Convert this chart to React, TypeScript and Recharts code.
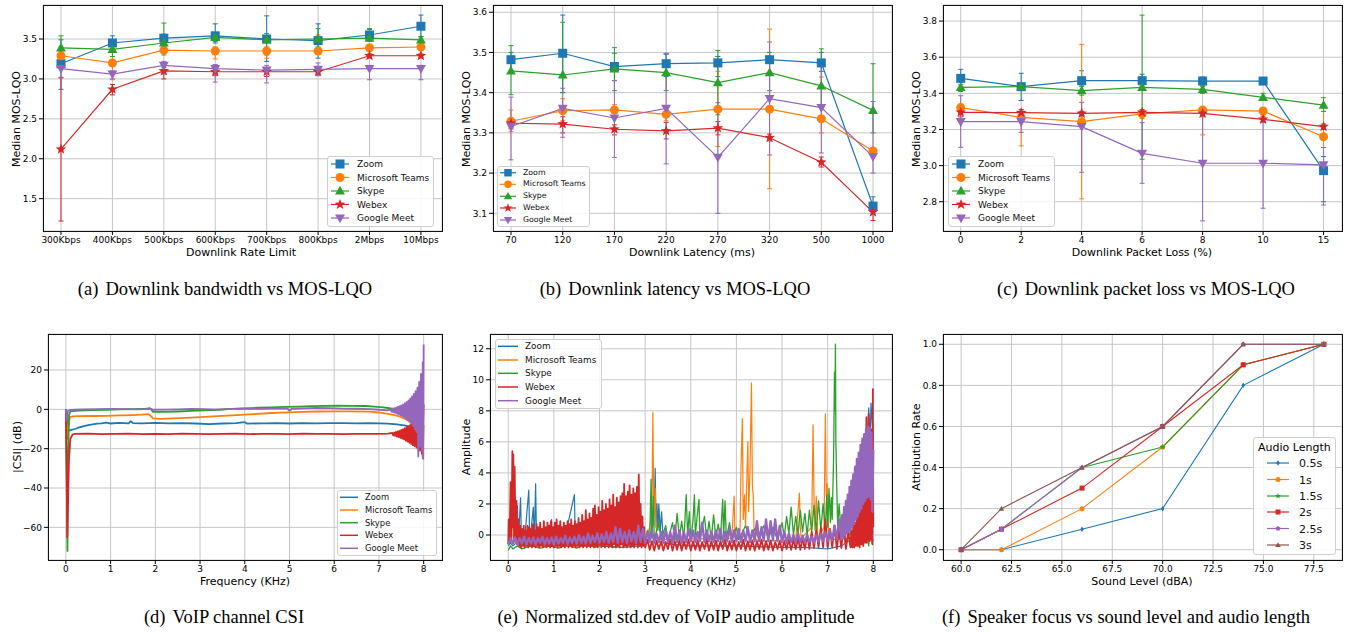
import React from 'react';
import { LineChart, Line, XAxis, YAxis, CartesianGrid, ErrorBar } from 'recharts';

const FONT = "'DejaVu Sans', Verdana, sans-serif";
const SERIF = "'Liberation Serif', 'DejaVu Serif', serif";

const APP_NAMES = ['Zoom', 'Microsoft Teams', 'Skype', 'Webex', 'Google Meet'];
const APP_KEYS = ['zoom', 'teams', 'skype', 'webex', 'meet'];
const APP_COLORS = ['#1f77b4', '#ff7f0e', '#2ca02c', '#d62728', '#9467bd'];
const APP_SHAPES = ['square', 'circle', 'tri', 'star', 'triDown'];

// ---------- (a) Downlink bandwidth ----------
const BW_LABELS = ['300Kbps', '400Kbps', '500Kbps', '600Kbps', '700Kbps', '800Kbps', '2Mbps', '10Mbps'];
const BW_ZOOM = [3.19, 3.45, 3.51, 3.54, 3.5, 3.48, 3.55, 3.66];
const BW_ZOOM_LO = [2.87, 3.38, 3.45, 3.45, 3.22, 3.26, 3.5, 3.53];
const BW_ZOOM_HI = [3.49, 3.54, 3.56, 3.69, 3.79, 3.69, 3.62, 3.8];
const BW_TEAMS = [3.29, 3.2, 3.36, 3.35, 3.35, 3.35, 3.39, 3.4];
const BW_TEAMS_LO = [3.22, 2.99, 3.32, 3.25, 3.26, 3.31, 3.36, 3.37];
const BW_TEAMS_HI = [3.35, 3.28, 3.4, 3.4, 3.4, 3.55, 3.42, 3.43];
const BW_SKYPE = [3.39, 3.37, 3.45, 3.52, 3.49, 3.5, 3.51, 3.49];
const BW_SKYPE_LO = [3.3, 3.28, 3.3, 3.47, 3.3, 3.4, 3.47, 3.45];
const BW_SKYPE_HI = [3.54, 3.42, 3.7, 3.56, 3.57, 3.63, 3.63, 3.53];
const BW_WEBEX = [2.12, 2.87, 3.1, 3.09, 3.09, 3.09, 3.29, 3.29];
const BW_WEBEX_LO = [1.22, 2.8, 3.0, 3.04, 3.03, 3.05, 3.27, 3.27];
const BW_WEBEX_HI = [3.02, 2.93, 3.14, 3.13, 3.13, 3.13, 3.31, 3.31];
const BW_MEET = [3.13, 3.06, 3.17, 3.13, 3.11, 3.12, 3.13, 3.13];
const BW_MEET_LO = [3.01, 3.0, 3.06, 2.96, 2.95, 3.04, 2.99, 2.99];
const BW_MEET_HI = [3.17, 3.1, 3.22, 3.18, 3.17, 3.2, 3.17, 3.17];

// ---------- (b) Downlink latency ----------
const LAT_LABELS = ['70', '120', '170', '220', '270', '320', '500', '1000'];
const LAT_ZOOM = [3.482, 3.498, 3.465, 3.472, 3.474, 3.482, 3.474, 3.118];
const LAT_ZOOM_LO = [3.45, 3.4, 3.43, 3.44, 3.44, 3.45, 3.453, 3.108];
const LAT_ZOOM_HI = [3.5, 3.593, 3.498, 3.496, 3.49, 3.5, 3.5, 3.141];
const LAT_TEAMS = [3.329, 3.355, 3.357, 3.346, 3.359, 3.359, 3.335, 3.255];
const LAT_TEAMS_LO = [3.303, 3.33, 3.34, 3.33, 3.266, 3.161, 3.3, 3.245];
const LAT_TEAMS_HI = [3.357, 3.385, 3.37, 3.36, 3.453, 3.558, 3.439, 3.262];
const LAT_SKYPE = [3.454, 3.444, 3.459, 3.45, 3.425, 3.45, 3.417, 3.356];
const LAT_SKYPE_LO = [3.395, 3.4, 3.405, 3.405, 3.345, 3.405, 3.37, 3.3];
const LAT_SKYPE_HI = [3.517, 3.575, 3.512, 3.496, 3.505, 3.5, 3.509, 3.472];
const LAT_WEBEX = [3.324, 3.322, 3.309, 3.305, 3.312, 3.288, 3.227, 3.103];
const LAT_WEBEX_LO = [3.31, 3.3, 3.295, 3.285, 3.295, 3.28, 3.215, 3.082];
const LAT_WEBEX_HI = [3.335, 3.34, 3.32, 3.326, 3.328, 3.297, 3.24, 3.115];
const LAT_MEET = [3.316, 3.361, 3.337, 3.361, 3.239, 3.385, 3.363, 3.241];
const LAT_MEET_LO = [3.233, 3.289, 3.239, 3.223, 3.1, 3.245, 3.25, 3.2];
const LAT_MEET_HI = [3.389, 3.411, 3.43, 3.498, 3.375, 3.526, 3.478, 3.378];

// ---------- (c) Downlink packet loss ----------
const LOSS_LABELS = ['0', '2', '4', '6', '8', '10', '15'];
const LOSS_ZOOM = [3.483, 3.437, 3.47, 3.47, 3.468, 3.468, 2.972];
const LOSS_ZOOM_LO = [3.43, 3.36, 3.44, 3.44, 3.44, 3.45, 2.8];
const LOSS_ZOOM_HI = [3.533, 3.511, 3.525, 3.506, 3.49, 3.48, 3.05];
const LOSS_TEAMS = [3.321, 3.267, 3.243, 3.286, 3.308, 3.302, 3.16];
const LOSS_TEAMS_LO = [3.29, 3.109, 2.816, 3.26, 3.17, 3.28, 3.1];
const LOSS_TEAMS_HI = [3.34, 3.3, 3.671, 3.3, 3.32, 3.32, 3.3];
const LOSS_SKYPE = [3.433, 3.437, 3.415, 3.433, 3.422, 3.378, 3.335];
const LOSS_SKYPE_LO = [3.41, 3.42, 3.39, 3.035, 3.4, 3.363, 3.3];
const LOSS_SKYPE_HI = [3.45, 3.45, 3.44, 3.833, 3.44, 3.4, 3.376];
const LOSS_WEBEX = [3.295, 3.293, 3.289, 3.295, 3.289, 3.256, 3.216];
const LOSS_WEBEX_LO = [3.27, 3.28, 3.275, 3.28, 3.27, 3.24, 3.2];
const LOSS_WEBEX_HI = [3.31, 3.31, 3.3, 3.31, 3.3, 3.27, 3.23];
const LOSS_MEET = [3.243, 3.243, 3.216, 3.068, 3.013, 3.013, 3.004];
const LOSS_MEET_LO = [3.101, 3.184, 2.963, 2.902, 2.694, 2.764, 2.782];
const LOSS_MEET_HI = [3.387, 3.3, 3.35, 3.238, 3.321, 3.317, 3.1];

// ---------- (d) VoIP channel CSI (KHz, dB) ----------
const CSI_ZOOM = [[0.03, -1], [0.05, -11], [0.1, -10.6], [0.2, -10], [0.3, -9.2], [0.4, -8.5], [0.5, -8], [0.6, -7.6], [0.7, -7.3], [0.8, -7.1], [0.9, -6.8], [1.0, -7.2], [1.2, -6.9], [1.4, -7.1], [1.45, -6.0], [1.5, -7.0], [1.7, -7.1], [2.0, -6.9], [2.3, -7.1], [2.6, -7.0], [2.9, -7.2], [3.2, -7.5], [3.5, -7.2], [3.8, -7.0], [4.0, -6.5], [4.05, -7.3], [4.4, -7.1], [4.7, -7.0], [5.0, -7.2], [5.3, -7.0], [5.6, -7.1], [5.9, -7.0], [6.2, -7.0], [6.5, -7.1], [6.8, -7.0], [7.0, -7.1], [7.2, -7.3], [7.4, -7.6], [7.6, -8.3], [7.7, -9], [7.8, -9.3], [7.9, -9], [7.95, -8], [8.0, -7]];
const CSI_TEAMS = [[0.0, 0], [0.03, -15], [0.06, -8], [0.09, -4], [0.15, -3.6], [0.3, -3.5], [0.6, -3.4], [0.9, -3.3], [1.2, -3.1], [1.5, -2.9], [1.7, -2.7], [1.85, -2.4], [1.9, -3.5], [1.95, -4.6], [2.1, -4.8], [2.4, -4.6], [2.7, -4.3], [3.0, -4.0], [3.3, -3.6], [3.6, -3.2], [3.9, -2.8], [4.2, -2.4], [4.5, -2.0], [4.8, -1.7], [5.0, -1.5], [5.3, -1.3], [5.6, -1.1], [6.0, -1.0], [6.4, -1.0], [6.8, -1.2], [7.0, -1.6], [7.2, -2.3], [7.4, -3.2], [7.5, -4], [7.6, -5], [7.7, -6.5], [7.8, -9], [7.85, -11], [7.9, -14], [7.95, -19], [7.98, -25], [8.0, -8]];
const CSI_SKYPE = [[0.0, 0], [0.02, -35], [0.035, -72], [0.05, -25], [0.07, -3], [0.1, -1.0], [0.3, -0.6], [0.6, -0.4], [0.9, -0.2], [1.2, 0], [1.5, 0.1], [1.8, 0.3], [1.88, 0.6], [1.95, -1.3], [2.2, -1.3], [2.5, -1.1], [2.8, -0.8], [3.1, -0.5], [3.4, -0.2], [3.7, 0.2], [4.0, 0.5], [4.3, 0.8], [4.6, 1.0], [4.9, 1.2], [5.2, 1.4], [5.5, 1.6], [5.8, 1.8], [6.1, 1.9], [6.4, 1.8], [6.7, 1.7], [6.9, 1.4], [7.1, 1.0], [7.3, 0.3], [7.4, -0.3], [7.5, -1.0], [7.6, -2], [7.7, -3.5], [7.8, -6], [7.9, -9], [8.0, -10]];
const CSI_WEBEX = [[0.0, 0], [0.015, -30], [0.03, -65], [0.05, -45], [0.07, -25], [0.1, -15], [0.15, -12.8], [0.2, -12.5], [0.5, -12.4], [0.8, -12.6], [1.1, -12.5], [1.4, -12.4], [1.7, -12.6], [2.0, -12.5], [2.3, -12.6], [2.6, -12.4], [2.9, -12.5], [3.2, -12.6], [3.5, -12.5], [3.8, -12.4], [4.1, -12.6], [4.4, -12.5], [4.7, -12.5], [5.0, -12.6], [5.3, -12.4], [5.6, -12.5], [5.9, -12.5], [6.2, -12.6], [6.5, -12.5], [6.8, -12.5], [7.0, -12.5], [7.2, -12.4],
  [7.30, -12.0], [7.32, -13.3], [7.34, -11.8], [7.36, -13.5], [7.38, -11.5], [7.40, -13.8], [7.42, -11.2], [7.44, -14.1], [7.46, -10.9], [7.48, -14.5], [7.50, -10.4], [7.52, -14.9], [7.54, -10.1], [7.56, -15.3], [7.58, -9.6], [7.60, -15.9], [7.62, -9.0], [7.64, -16.4], [7.66, -8.5], [7.68, -17.0], [7.70, -7.9], [7.72, -17.6], [7.74, -7.2], [7.76, -18.2], [7.78, -6.6], [7.80, -18.8], [7.82, -11], [7.84, -19.5], [7.86, -12], [7.88, -20.5], [7.90, -13], [7.92, -21], [7.94, -14], [7.96, -22.5], [7.98, -16], [8.0, 2.5]];
const CSI_MEET = [[0.0, 0], [0.02, -6], [0.04, -1], [0.08, -0.4], [0.2, -0.2], [0.4, 0], [0.7, 0.1], [1.0, 0.2], [1.3, 0.1], [1.6, 0], [1.9, 0.2], [1.95, -0.2], [2.2, -0.1], [2.5, 0], [2.8, 0.2], [3.1, 0.1], [3.4, -0.1], [3.7, 0.2], [4.0, 0.3], [4.3, 0.2], [4.6, 0.4], [4.95, 0.5], [5.0, -0.8], [5.05, 0.3], [5.3, 0.5], [5.6, 0.7], [5.9, 0.6], [6.2, 0.4], [6.5, 0.3], [6.8, 0.1], [7.0, -0.2], [7.2, -0.5],
  [7.26, 0.0], [7.28, -1.2], [7.30, 0.4], [7.32, -1.5], [7.34, 0.6], [7.36, -1.8], [7.38, 0.9], [7.40, -2.2], [7.42, 1.2], [7.44, -2.6], [7.46, 1.6], [7.48, -3.0], [7.50, 2.0], [7.52, -3.5], [7.54, 2.5], [7.56, -4.0], [7.58, 3.1], [7.60, -4.6], [7.62, 3.8], [7.64, -5.3], [7.66, 4.6], [7.68, -6.2], [7.70, 5.5], [7.72, -7.2], [7.74, 6.6], [7.76, -8.4], [7.78, 7.9], [7.80, -9.8], [7.82, 9.3], [7.84, -11.5], [7.86, 11], [7.88, -24], [7.90, 14], [7.92, -19], [7.94, 18], [7.96, -21], [7.98, 24], [7.99, -25], [8.0, 33]];

// ---------- (e) Normalized std.dev of amplitude (KHz, amplitude) ----------
const AMP_ZOOM = [[0, -0.7], [0.05, -0.5], [0.1, -0.7], [0.18, -0.5], [0.2, 1.9], [0.22, -0.5], [0.27, 2.4], [0.29, -0.5], [0.35, -0.6], [0.45, 2.9], [0.47, -0.5], [0.55, 1.8], [0.57, -0.5], [0.6, 3.3], [0.62, -0.5], [0.8, -0.7], [0.95, 1.0], [0.97, -0.6], [1.2, -0.7], [1.45, 2.6], [1.47, -0.6], [1.7, -0.7], [2.0, -0.7], [2.5, -0.8], [2.9, -0.7], [3.0, -0.6], [3.1, -0.3], [3.2, 1.5], [3.22, 4.3], [3.24, 0.5], [3.26, 2.0], [3.28, 0.3], [3.3, 2.0], [3.33, 0.2], [3.36, 1.5], [3.4, -0.5], [3.6, -0.6], [4.0, -0.7], [5.0, -0.7], [6.0, -0.8], [6.5, -0.8], [7.0, -0.9], [7.3, -0.7], [7.5, -0.3], [7.6, 0.5], [7.7, 1.5], [7.8, 3], [7.85, 5], [7.9, 8.2], [7.93, 6], [7.95, 8.5], [7.97, 7.5], [8.0, 6]];
const AMP_TEAMS = [[0, -0.5], [0.1, 1.5], [0.12, -0.5], [1.0, -0.5], [3.0, -0.4], [3.1, 0.5], [3.15, 1.8], [3.17, 7.9], [3.19, 0.6], [3.22, 3.0], [3.25, -0.2], [3.4, -0.3], [4.9, -0.2], [4.95, 2.5], [4.97, -0.2], [5.08, 0.3], [5.1, 4.2], [5.13, 7.5], [5.15, 1.0], [5.18, 2.6], [5.2, 0.5], [5.25, 6.0], [5.27, 1.5], [5.3, 4.5], [5.33, 9.8], [5.35, 3.2], [5.37, 2.5], [5.39, -0.2], [5.5, -0.4], [6.3, -0.3], [6.38, 2.7], [6.4, 0.5], [6.42, -0.2], [6.65, 0.5], [6.68, 7.1], [6.7, 2.5], [6.72, 0.3], [6.75, 2.5], [6.78, -0.2], [6.92, 0.5], [6.95, 7.8], [6.97, 2.5], [6.99, 3.3], [7.02, 0.2], [7.1, -0.3], [7.5, -0.2], [8.0, 0.2]];
const AMP_SKYPE = [[0, -1.0], [0.05, -0.7], [0.1, -0.9], [0.2, -0.7], [0.3, -0.9], [0.5, -0.7], [0.7, -0.85], [0.9, -0.7], [1.1, -0.85], [1.3, -0.65], [1.5, -0.85], [1.7, -0.6], [1.9, -0.8], [2.1, -0.6], [2.3, -0.8], [2.5, -0.55], [2.7, -0.75], [2.9, -0.5], [3.0, -0.7], [3.05, 0.3], [3.1, -0.3], [3.13, 3.6], [3.15, -0.2], [3.18, 2.5], [3.2, -0.3], [3.3, 0.8], [3.35, -0.3], [3.45, 0.6], [3.5, -0.4], [3.6, 0.8], [3.65, -0.3], [3.7, 1.4], [3.75, -0.2], [3.8, 0.9], [3.85, -0.3], [3.9, 2.6], [3.93, 0.0], [3.97, 1.5], [4.0, -0.4], [4.05, 1.0], [4.08, 2.6], [4.1, 0.0], [4.15, 1.5], [4.18, 2.3], [4.2, -0.2], [4.3, 1.2], [4.35, -0.3], [4.4, 0.9], [4.45, -0.3], [4.5, 1.3], [4.55, -0.2], [4.6, 0.7], [4.65, -0.3], [4.7, 2.3], [4.72, -0.1], [4.75, 2.2], [4.78, -0.2], [4.85, 0.8], [4.9, -0.3], [5.0, 0.5], [5.05, -0.3], [5.2, 0.6], [5.3, -0.2], [5.4, 0.4], [5.5, -0.3], [5.6, 0.6], [5.7, -0.2], [5.8, 0.5], [5.9, -0.3], [6.0, 0.8], [6.05, -0.1], [6.1, 1.2], [6.15, 0.1], [6.2, 1.8], [6.25, 0.0], [6.3, 1.2], [6.35, 0.1], [6.4, 1.6], [6.45, 0.2], [6.5, 1.4], [6.55, 0.0], [6.6, 1.6], [6.65, 0.2], [6.7, 1.9], [6.75, 0.2], [6.8, 2.2], [6.85, 0.3], [6.9, 2.0], [6.95, 0.4], [6.98, 2.6], [7.0, 0.5], [7.03, 3.0], [7.06, 0.8], [7.08, 2.4], [7.1, 1.0], [7.13, 5], [7.15, 10.5], [7.16, 8], [7.17, 12.3], [7.18, 6], [7.2, 3.0], [7.22, 0.5], [7.25, 2.0], [7.3, 0.0], [7.35, 0.4], [7.4, -0.5], [7.5, 0.2], [7.6, -0.6], [7.7, 0.1], [7.75, -0.6], [7.77, 6.2], [7.79, -0.5], [7.85, 0.5], [7.9, -0.7], [7.95, 1.5], [7.97, -0.5], [8.0, -0.3]];
const AMP_WEBEX_HEAD = [[0.0, -0.6], [0.01, 1.0], [0.03, -0.5], [0.05, 3.4], [0.07, -0.3], [0.09, 5.4], [0.1, 0.5], [0.11, 5.2], [0.13, -0.2], [0.14, 4.4], [0.16, -0.4]];
const AMP_WEBEX_LOW_X0 = 0.18;
const AMP_WEBEX_LOW_DX = 0.02;
const AMP_WEBEX_LOW = [
  2.2, -0.6, 1.0, -0.7, 0.6, -0.8, 0.4, -0.7, 0.6, -0.8, 0.3, -0.7, 0.6, -0.8, 0.5, -0.7, 0.4, -0.8, 0.7, -0.7,
  0.3, -0.8, 0.7, -0.7, 0.5, -0.8, 0.8, -0.7, 0.4, -0.8, 0.9, -0.7, 0.5, -0.8, 0.8, -0.7, 0.6, -0.8, 0.9, -0.7,
  0.5, -0.8, 0.8, -0.7, 1.0, -0.8, 0.6, -0.7, 0.9, -0.8, 0.5, -0.7, 0.8, -0.8, 0.6, -0.7, 0.9, -0.8, 0.7, -0.7,
  1.0, -0.8, 0.6, -0.7, 0.9, -0.8, 0.7, -0.7, 1.1, -0.8, 0.8, -0.7, 1.3, -0.8, 0.9, -0.7, 1.6, -0.8, 1.0, -0.7,
  1.4, -0.8, 1.1, -0.7, 1.7, -0.8, 1.9, -0.7, 1.3, -0.8, 1.8, -0.6, 1.5, -0.8, 2.2, -0.7, 1.6, -0.8, 2.0, -0.6,
  1.7, -0.8, 2.3, -0.7, 1.9, -0.8, 2.6, -0.6, 1.8, -0.8, 2.4, -0.7, 2.1, -0.8, 2.5, -0.6, 2.7, -0.8, 3.3, -0.7,
  2.5, -0.8, 2.8, -0.6, 3.2, -0.8, 2.6, -0.7, 3.0, -0.8, 2.7, -0.6, 3.1, -0.8, 3.9, -0.7, 2.0, -0.8, 1.2, -0.7,
  0.5, -0.8];
const AMP_WEBEX_MID_X0 = 3.05;
const AMP_WEBEX_MID_DX = 0.05;
const AMP_WEBEX_MID = [
  -0.3, -0.95, -0.4, -1.0, -0.35, -0.9, -0.4, -1.0, -0.45, -0.9, -0.3, -1.0, -0.4, -0.95, -0.35, -1.0, -0.4, -0.9, -0.3, -1.0,
  -0.4, -0.95, -0.35, -1.0, -0.45, -0.9, -0.3, -1.0, -0.4, -0.95, -0.35, -1.0, -0.4, -0.9, -0.3, -1.0, -0.4, -0.95, -0.35, -1.0,
  -0.45, -0.9, -0.3, -1.0, -0.4, -0.95, -0.35, -1.0, -0.4, -0.9, -0.3, -1.0, -0.4, -0.95, -0.35, -1.0, -0.45, -0.9, -0.4, -1.0,
  -0.4, -0.9, -0.3, -0.95, -0.3, -0.9, -0.2, -0.95, -0.2, -0.9, 0.0, -0.9, 0.2, -0.85, 0.3, -0.8, 0.5, -0.8, 1.0, -0.85,
  0.4, -0.8, 0.6, -0.9, 0.3, -0.85, 0.6, -0.9, 0.2, -0.8];
const AMP_WEBEX_TAIL = [[7.52, 0.3], [7.54, -0.8], [7.56, 0.6], [7.58, -0.8], [7.6, 0.8], [7.62, -0.7], [7.64, 1.1], [7.66, -0.7], [7.68, 1.5], [7.7, -0.8], [7.72, 1.9], [7.74, -0.6], [7.76, 2.3], [7.78, -0.7], [7.8, 2.8], [7.82, -0.5], [7.84, 6.0], [7.85, 7.6], [7.86, -0.5], [7.88, 6.5], [7.89, -0.3], [7.9, 7.8], [7.92, -0.4], [7.94, 5.5], [7.95, -0.3], [7.96, 6.8], [7.98, -0.6], [7.99, 9.4], [8.0, 0.5]];
const AMP_MEET_X0 = 0;
const AMP_MEET_DX = 0.05;
const AMP_MEET = [
  -0.6, -0.2, -0.55, -0.15, -0.6, -0.2, -0.55, -0.1, -0.6, -0.2,
  -0.55, -0.15, -0.6, -0.2, -0.5, -0.1, -0.6, -0.2, -0.55, -0.15,
  -0.6, -0.1, -0.55, -0.2, -0.5, -0.05, -0.6, -0.15, -0.5, -0.1,
  -0.55, 0.0, -0.5, -0.1, -0.55, 0.1, -0.5, -0.05, -0.45, 0.1,
  -0.5, 0.05, -0.45, 0.2, -0.5, 0.1, -0.45, 0.5, -0.5, 0.4,
  -0.45, 0.2, -0.5, 0.3, -0.4, 0.2, -0.5, 0.6, -0.45, 0.4,
  -0.5, 0.2, -0.45, 0.3, -0.5, 0.1, -0.45, 0.2, -0.5, 0.3,
  -0.45, 0.2, -0.5, 0.6, -0.45, 0.3, -0.5, 0.2, -0.45, 0.4,
  -0.4, 0.3, -0.45, 0.2, -0.4, 0.8, -0.45, 0.3, -0.4, 0.2,
  -0.45, 0.3, -0.4, 0.4, -0.45, 0.2, -0.4, 0.5, -0.45, 0.3,
  -0.4, 0.4, -0.45, 0.3, -0.4, 0.5, -0.45, 0.3, -0.4, 0.9,
  -0.4, 0.5, -0.35, 1.0, -0.4, 0.9, -0.35, 1.0, -0.4, 0.6,
  -0.45, 0.2, -0.5, 0.1, -0.45, 0.0, -0.5, 0.1, -0.45, -0.05,
  -0.5, 0.0, -0.45, -0.1, -0.5, 0.0, -0.45, 0.1, -0.4, 0.2,
  -0.4, 0.3, -0.35, 0.6, -0.3, 1.0];
const AMP_MEET_TAIL = [[7.3, -0.3], [7.32, 1.3], [7.34, -0.2], [7.36, 1.8], [7.38, 0.0], [7.4, 2.2], [7.42, 0.1], [7.44, 2.6], [7.46, 0.2], [7.48, 3.1], [7.5, 0.3], [7.52, 3.5], [7.54, 0.5], [7.56, 3.9], [7.58, 0.7], [7.6, 4.4], [7.62, 1.0], [7.64, 4.9], [7.66, 1.2], [7.68, 5.3], [7.7, 1.5], [7.72, 5.8], [7.74, 1.7], [7.76, 6.2], [7.78, 2.0], [7.8, 6.5], [7.82, 2.2], [7.84, 6.8], [7.86, 2.4], [7.88, 7.0], [7.9, 2.5], [7.92, 6.9], [7.94, 2.3], [7.96, 6.6], [7.98, 1.5], [8.0, 5.5]];

// ---------- (f) Speaker focus ----------
const SOUND_LEVELS = [60, 62, 66, 70, 74, 78];
const LEN_NAMES = ['0.5s', '1s', '1.5s', '2s', '2.5s', '3s'];
const LEN_COLORS = ['#1f77b4', '#ff7f0e', '#2ca02c', '#d62728', '#9467bd', '#8c564b'];
const LEN_SHAPES = ['diamond', 'circle', 'star', 'square', 'pentagon', 'tri'];
const RATE_05 = [0, 0, 0.1, 0.2, 0.8, 1.0];
const RATE_1 = [0, 0, 0.2, 0.5, 0.9, 1.0];
const RATE_15 = [0, 0.1, 0.4, 0.5, 0.9, 1.0];
const RATE_2 = [0, 0.1, 0.3, 0.6, 0.9, 1.0];
const RATE_25 = [0, 0.1, 0.4, 0.6, 1.0, 1.0];
const RATE_3 = [0, 0.2, 0.4, 0.6, 1.0, 1.0];

// ---------- helpers ----------
type Row = Record<string, any>;

function buildRows(n: number, series: { v: number[]; lo: number[]; hi: number[] }[]): Row[] {
  const rows: Row[] = [];
  for (let i = 0; i < n; i++) {
    const r: Row = { x: i };
    series.forEach((s, k) => {
      r[APP_KEYS[k]] = s.v[i];
      r[APP_KEYS[k] + 'Err'] = [Math.max(0, s.v[i] - s.lo[i]), Math.max(0, s.hi[i] - s.v[i])];
    });
    rows.push(r);
  }
  return rows;
}
const pairs = (p: number[][]) => p.map(([x, y]) => ({ x, y }));
const sampled = (x0: number, dx: number, ys: number[]) => ys.map((y, i) => ({ x: +(x0 + i * dx).toFixed(4), y }));

const ROWS_A = buildRows(8, [
  { v: BW_ZOOM, lo: BW_ZOOM_LO, hi: BW_ZOOM_HI },
  { v: BW_TEAMS, lo: BW_TEAMS_LO, hi: BW_TEAMS_HI },
  { v: BW_SKYPE, lo: BW_SKYPE_LO, hi: BW_SKYPE_HI },
  { v: BW_WEBEX, lo: BW_WEBEX_LO, hi: BW_WEBEX_HI },
  { v: BW_MEET, lo: BW_MEET_LO, hi: BW_MEET_HI },
]);
const ROWS_B = buildRows(8, [
  { v: LAT_ZOOM, lo: LAT_ZOOM_LO, hi: LAT_ZOOM_HI },
  { v: LAT_TEAMS, lo: LAT_TEAMS_LO, hi: LAT_TEAMS_HI },
  { v: LAT_SKYPE, lo: LAT_SKYPE_LO, hi: LAT_SKYPE_HI },
  { v: LAT_WEBEX, lo: LAT_WEBEX_LO, hi: LAT_WEBEX_HI },
  { v: LAT_MEET, lo: LAT_MEET_LO, hi: LAT_MEET_HI },
]);
const ROWS_C = buildRows(7, [
  { v: LOSS_ZOOM, lo: LOSS_ZOOM_LO, hi: LOSS_ZOOM_HI },
  { v: LOSS_TEAMS, lo: LOSS_TEAMS_LO, hi: LOSS_TEAMS_HI },
  { v: LOSS_SKYPE, lo: LOSS_SKYPE_LO, hi: LOSS_SKYPE_HI },
  { v: LOSS_WEBEX, lo: LOSS_WEBEX_LO, hi: LOSS_WEBEX_HI },
  { v: LOSS_MEET, lo: LOSS_MEET_LO, hi: LOSS_MEET_HI },
]);

const CSI_SERIES = [CSI_ZOOM, CSI_TEAMS, CSI_SKYPE, CSI_WEBEX, CSI_MEET].map(pairs);
const AMP_SERIES = [
  pairs(AMP_ZOOM),
  pairs(AMP_TEAMS),
  pairs(AMP_SKYPE),
  [...pairs(AMP_WEBEX_HEAD), ...sampled(AMP_WEBEX_LOW_X0, AMP_WEBEX_LOW_DX, AMP_WEBEX_LOW), ...sampled(AMP_WEBEX_MID_X0, AMP_WEBEX_MID_DX, AMP_WEBEX_MID), ...pairs(AMP_WEBEX_TAIL)],
  [...sampled(AMP_MEET_X0, AMP_MEET_DX, AMP_MEET), ...pairs(AMP_MEET_TAIL)],
];

const RATE_SERIES = [RATE_05, RATE_1, RATE_15, RATE_2, RATE_25, RATE_3];
const ROWS_F = SOUND_LEVELS.map((lvl, i) => {
  const r: Row = { x: lvl };
  RATE_SERIES.forEach((s, k) => (r['s' + k] = s[i]));
  return r;
});

// ---------- marker shapes ----------
function Marker({ shape, cx, cy, s, color }: any) {
  if (cx == null || cy == null || Number.isNaN(cx) || Number.isNaN(cy)) return null;
  const h = s / 2;
  const poly = (pts: number[][]) => pts.map((p) => `${p[0].toFixed(2)},${p[1].toFixed(2)}`).join(' ');
  switch (shape) {
    case 'square':
      return <rect x={cx - h} y={cy - h} width={s} height={s} fill={color} />;
    case 'circle':
      return <circle cx={cx} cy={cy} r={h} fill={color} />;
    case 'tri':
      return <polygon points={poly([[cx, cy - h * 1.15], [cx - h * 1.1, cy + h * 0.8], [cx + h * 1.1, cy + h * 0.8]])} fill={color} />;
    case 'triDown':
      return <polygon points={poly([[cx, cy + h * 1.15], [cx - h * 1.1, cy - h * 0.8], [cx + h * 1.1, cy - h * 0.8]])} fill={color} />;
    case 'diamond':
      return <polygon points={poly([[cx, cy - h * 1.1], [cx + h * 0.7, cy], [cx, cy + h * 1.1], [cx - h * 0.7, cy]])} fill={color} />;
    case 'star':
    case 'pentagon': {
      const R = shape === 'star' ? h * 1.25 : h * 1.05;
      const pts: number[][] = [];
      const n = shape === 'star' ? 10 : 5;
      for (let i = 0; i < n; i++) {
        const a = -Math.PI / 2 + (i * 2 * Math.PI) / n;
        const rr = shape === 'star' && i % 2 === 1 ? R * 0.42 : R;
        pts.push([cx + rr * Math.cos(a), cy + rr * Math.sin(a)]);
      }
      return <polygon points={poly(pts)} fill={color} />;
    }
    default:
      return <circle cx={cx} cy={cy} r={h * 0.6} fill={color} />;
  }
}

// ---------- overlays ----------
function Frame({ l, t, r, b }: { l: number; t: number; r: number; b: number }) {
  return (
    <div style={{ position: 'absolute', left: l - 0.5, top: t - 0.5, width: r - l - 1, height: b - t - 1, border: '1px solid #111', pointerEvents: 'none' }} />
  );
}

function Txt({ x, y, size = 11, rotate = false, family = FONT, children }: any) {
  return (
    <div
      style={{
        position: 'absolute', left: x, top: y, transform: `translate(-50%, -50%)${rotate ? ' rotate(-90deg)' : ''}`,
        fontSize: size, fontFamily: family, whiteSpace: 'nowrap', lineHeight: 1, color: '#000',
      }}
    >
      {children}
    </div>
  );
}

function Caption({ x, y, tag, text }: any) {
  return (
    <div style={{ position: 'absolute', left: x, top: y, transform: 'translate(-50%, -50%)', fontFamily: SERIF, fontSize: 18.5, whiteSpace: 'nowrap', lineHeight: 1, color: '#000' }}>
      <span style={{ marginRight: 7 }}>{tag}</span>
      {text}
    </div>
  );
}

type LegEntry = { label: string; color: string; shape?: string };
function LegendBox({ box, rows, entries, markerX, lineHalf, textX, fontSize, markerSize = 9, lineWidth = 1.2, title, titleX, titleY }: any) {
  const [l, t, w, h] = box;
  return (
    <div style={{ position: 'absolute', left: l, top: t, width: w, height: h }}>
      <div style={{ position: 'absolute', inset: 0, background: 'rgba(255,255,255,0.85)', border: '1px solid #cfcfcf', borderRadius: 3, boxSizing: 'border-box' }} />
      <svg width={w} height={h} style={{ position: 'absolute', left: 0, top: 0, overflow: 'visible' }}>
        {entries.map((e: LegEntry, i: number) => (
          <g key={i}>
            <line x1={markerX - l - lineHalf} x2={markerX - l + lineHalf} y1={rows[i] - t} y2={rows[i] - t} stroke={e.color} strokeWidth={lineWidth} />
            {e.shape ? <Marker shape={e.shape} cx={markerX - l} cy={rows[i] - t} s={markerSize} color={e.color} /> : null}
          </g>
        ))}
      </svg>
      {title ? (
        <div style={{ position: 'absolute', left: titleX - l, top: titleY - t, transform: 'translateY(-50%)', fontSize, fontFamily: FONT, lineHeight: 1, whiteSpace: 'nowrap' }}>{title}</div>
      ) : null}
      {entries.map((e: LegEntry, i: number) => (
        <div key={'t' + i} style={{ position: 'absolute', left: textX - l, top: rows[i] - t, transform: 'translateY(-50%)', fontSize, fontFamily: FONT, lineHeight: 1, whiteSpace: 'nowrap', color: '#111' }}>
          {e.label}
        </div>
      ))}
    </div>
  );
}

const TICK = { fontSize: 9, fill: '#000', fontFamily: FONT };
const GRID = '#c6c6c6';
const minusFmt = (v: number) => (v < 0 ? '\u2212' + Math.abs(v) : String(v));

function MosChart({ left, width, rows, labels, xDomain, yDomain, yTicks }: any) {
  return (
    <div style={{ position: 'absolute', left, top: 0 }}>
      <LineChart width={width} height={262} data={rows} margin={{ top: 5, right: width - 442, bottom: 0, left: 0 }}>
        <CartesianGrid stroke={GRID} strokeWidth={1} />
        <XAxis type="number" dataKey="x" domain={xDomain} ticks={labels.map((_: string, i: number) => i)} tickFormatter={(i: number) => labels[i]} interval={0} allowDataOverflow height={31} axisLine={false} tickLine={{ stroke: '#000' }} tickSize={4} tick={TICK} />
        <YAxis type="number" domain={yDomain} ticks={yTicks} tickFormatter={(v: number) => v.toFixed(1)} allowDataOverflow width={43} axisLine={false} tickLine={{ stroke: '#000' }} tickSize={4} tick={TICK} />
        {APP_KEYS.map((k, i) => (
          <Line
            key={k}
            dataKey={k}
            stroke={APP_COLORS[i]}
            strokeWidth={1.2}
            isAnimationActive={false}
            activeDot={false}
            dot={(p: any) => <Marker key={`${k}-${p.index}`} shape={APP_SHAPES[i]} cx={p.cx} cy={p.cy} s={9} color={APP_COLORS[i]} />}
          >
            <ErrorBar dataKey={k + 'Err'} direction="y" width={2.5} stroke={APP_COLORS[i]} strokeWidth={1} isAnimationActive={false} />
          </Line>
        ))}
      </LineChart>
    </div>
  );
}

function SignalChart({ left, yWidth, series, yDomain, yTicks, yFmt, strokeWidths }: any) {
  return (
    <div style={{ position: 'absolute', left, top: 320 }}>
      <LineChart width={450} height={262} margin={{ top: 14, right: 8, bottom: 0, left: 0 }}>
        <CartesianGrid stroke={GRID} strokeWidth={1} />
        <XAxis type="number" dataKey="x" domain={[-0.4, 8.41]} ticks={[0, 1, 2, 3, 4, 5, 6, 7, 8]} interval={0} allowDataOverflow height={22} axisLine={false} tickLine={{ stroke: '#000' }} tickSize={4} tick={TICK} />
        <YAxis type="number" domain={yDomain} ticks={yTicks} tickFormatter={yFmt} allowDataOverflow width={yWidth} axisLine={false} tickLine={{ stroke: '#000' }} tickSize={4} tick={TICK} />
        {series.map((d: any[], i: number) => (
          <Line key={APP_KEYS[i]} data={d} dataKey="y" stroke={APP_COLORS[i]} strokeWidth={strokeWidths[i]} strokeLinejoin="round" dot={false} activeDot={false} isAnimationActive={false} />
        ))}
      </LineChart>
    </div>
  );
}

const MOS_LEG = APP_NAMES.map((n, i) => ({ label: n, color: APP_COLORS[i], shape: APP_SHAPES[i] }));
const LINE_LEG = APP_NAMES.map((n, i) => ({ label: n, color: APP_COLORS[i] }));
const LEN_LEG = LEN_NAMES.map((n, i) => ({ label: n, color: LEN_COLORS[i], shape: LEN_SHAPES[i] }));

export default function App() {
  return (
    <div style={{ position: 'absolute', left: 0, top: 0, width: 1353, height: 632, background: '#fff', overflow: 'hidden', fontFamily: FONT }}>
      {/* (a) */}
      <MosChart left={0} width={450} rows={ROWS_A} labels={BW_LABELS} xDomain={[-0.35, 7.41]} yDomain={[1.095, 3.926]} yTicks={[1.5, 2.0, 2.5, 3.0, 3.5]} />
      <Frame l={43} t={5} r={442} b={231} />
      <LegendBox box={[327, 156, 107, 71]} rows={[164, 177.5, 191, 204.5, 218]} entries={MOS_LEG} markerX={340} lineHalf={9} textX={357} fontSize={9} />
      <Txt x={16} y={119} rotate>Median MOS-LQO</Txt>
      <Txt x={241} y={252}>Downlink Rate Limit</Txt>
      <Caption x={225} y={289} tag="(a)" text="Downlink bandwidth vs MOS-LQO" />

      {/* (b) */}
      <MosChart left={450} width={450} rows={ROWS_B} labels={LAT_LABELS} xDomain={[-0.348, 7.367]} yDomain={[3.056, 3.618]} yTicks={[3.1, 3.2, 3.3, 3.4, 3.5, 3.6]} />
      <Frame l={493} t={5} r={892} b={231} />
      <LegendBox box={[497, 166, 93, 61]} rows={[172.7, 184.3, 196.3, 208, 220]} entries={MOS_LEG} markerX={508} lineHalf={8} textX={523} fontSize={7.8} markerSize={7.5} />
      <Txt x={466} y={119} rotate>Median MOS-LQO</Txt>
      <Txt x={692} y={252}>Downlink Latency (ms)</Txt>
      <Caption x={675} y={289} tag="(b)" text="Downlink latency vs MOS-LQO" />

      {/* (c) */}
      <MosChart left={900} width={453} rows={ROWS_C} labels={LOSS_LABELS} xDomain={[-0.293, 6.305]} yDomain={[2.638, 3.889]} yTicks={[2.8, 3.0, 3.2, 3.4, 3.6, 3.8]} />
      <Frame l={943} t={5} r={1342} b={231} />
      <LegendBox box={[948, 156, 107, 71]} rows={[164, 177.5, 191, 204.5, 218]} entries={MOS_LEG} markerX={961} lineHalf={9} textX={978} fontSize={9} />
      <Txt x={916} y={119} rotate>Median MOS-LQO</Txt>
      <Txt x={1142} y={252}>Downlink Packet Loss (%)</Txt>
      <Caption x={1146} y={289} tag="(c)" text="Downlink packet loss vs MOS-LQO" />

      {/* (d) */}
      <SignalChart left={0} yWidth={48} series={CSI_SERIES} yDomain={[-76.6, 38.3]} yTicks={[-60, -40, -20, 0, 20]} yFmt={minusFmt} strokeWidths={[1.8, 1.8, 1.8, 1.8, 1.8]} />
      <Frame l={48} t={334} r={442} b={560} />
      <LegendBox box={[337, 490, 100, 66]} rows={[497.3, 510, 522.7, 535.3, 548.3]} entries={LINE_LEG} markerX={349} lineHalf={9} textX={365} fontSize={8.4} lineWidth={1.5} />
      <Txt x={17} y={447} rotate>|CSI| (dB)</Txt>
      <Txt x={245} y={581}>Frequency (KHz)</Txt>
      <Caption x={224} y={617} tag="(d)" text="VoIP channel CSI" />

      {/* (e) */}
      <SignalChart left={450} yWidth={40} series={AMP_SERIES} yDomain={[-1.61, 12.95]} yTicks={[0, 2, 4, 6, 8, 10, 12]} yFmt={(v: number) => String(v)} strokeWidths={[1.2, 1.2, 1.3, 1.8, 2.3]} />
      <Frame l={490} t={334} r={892} b={560} />
      <LegendBox box={[495, 339, 107, 70]} rows={[346.3, 360, 373.3, 387, 400.7]} entries={LINE_LEG} markerX={508} lineHalf={10} textX={525} fontSize={8.9} lineWidth={1.5} />
      <Txt x={466} y={447} rotate>Amplitude</Txt>
      <Txt x={691} y={581}>Frequency (KHz)</Txt>
      <Caption x={676} y={617} tag="(e)" text="Normalized std.dev of VoIP audio amplitude" />

      {/* (f) */}
      <div style={{ position: 'absolute', left: 900, top: 320 }}>
        <LineChart width={453} height={262} data={ROWS_F} margin={{ top: 14, right: 11, bottom: 0, left: 0 }}>
          <CartesianGrid stroke={GRID} strokeWidth={1} />
          <XAxis type="number" dataKey="x" domain={[59.1, 78.9]} ticks={[60, 62.5, 65, 67.5, 70, 72.5, 75, 77.5]} tickFormatter={(v: number) => v.toFixed(1)} interval={0} allowDataOverflow height={22} axisLine={false} tickLine={{ stroke: '#000' }} tickSize={4} tick={TICK} />
          <YAxis type="number" domain={[-0.05, 1.05]} ticks={[0, 0.2, 0.4, 0.6, 0.8, 1.0]} tickFormatter={(v: number) => v.toFixed(1)} allowDataOverflow width={43} axisLine={false} tickLine={{ stroke: '#000' }} tickSize={4} tick={TICK} />
          {LEN_NAMES.map((n, i) => (
            <Line
              key={n}
              dataKey={'s' + i}
              stroke={LEN_COLORS[i]}
              strokeWidth={1.1}
              isAnimationActive={false}
              activeDot={false}
              dot={(p: any) => <Marker key={`f${i}-${p.index}`} shape={LEN_SHAPES[i]} cx={p.cx} cy={p.cy} s={5} color={LEN_COLORS[i]} />}
            />
          ))}
        </LineChart>
      </div>
      <Frame l={943} t={334} r={1342} b={560} />
      <LegendBox box={[1253, 437, 83, 118]} rows={[463, 479.5, 496, 512, 528.5, 545]} entries={LEN_LEG} markerX={1278} lineHalf={11} textX={1299} fontSize={11} markerSize={5} title="Audio Length" titleX={1258} titleY={447} />
      <Txt x={916} y={447} rotate>Attribution Rate</Txt>
      <Txt x={1142} y={581}>Sound Level (dBA)</Txt>
      <Caption x={1126} y={617} tag="(f)" text="Speaker focus vs sound level and audio length" />
    </div>
  );
}
